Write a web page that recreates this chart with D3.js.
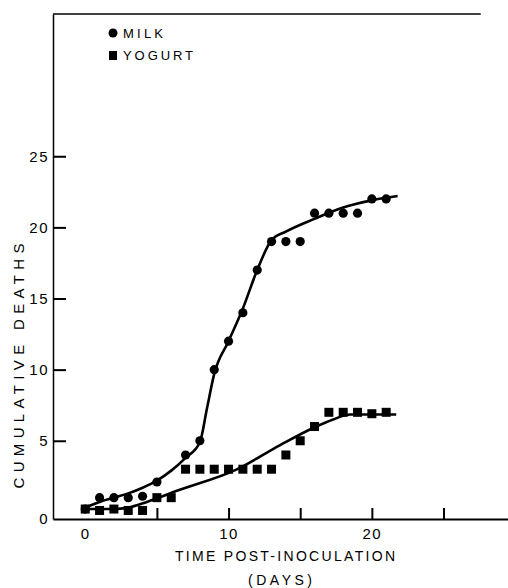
<!DOCTYPE html>
<html>
<head>
<meta charset="utf-8">
<script src="https://cdn.jsdelivr.net/npm/d3@7"></script>
<style>
body { margin: 0; background: #fff; }
text { font-family: "Liberation Sans", Arial, sans-serif; fill: #000; }
</style>
</head>
<body>
<script>
// observed points
var milkDays = [0, 1, 2, 3, 4, 5, 7, 8, 9, 10, 11, 12, 13, 14, 15, 16, 17, 18, 19, 20, 21]
var milkDeaths = [0.2, 1, 1, 1, 1.1, 2.1, 4, 5, 10, 12, 14, 17, 19, 19, 19, 21, 21, 21, 21, 22, 22]
var yogurtDays = [0, 1, 2, 3, 4, 5, 6, 7, 8, 9, 10, 11, 12, 13, 14, 15, 16, 17, 18, 19, 20, 21]
var yogurtDeaths = [0.2, 0.1, 0.2, 0.1, 0.1, 1, 1, 3, 3, 3, 3, 3, 3, 3, 4, 5, 6, 7, 7, 7, 6.9, 7]

// hand drawn fitted curves
var milkFitDays = [0, 1, 2, 3, 4, 5, 6, 7, 8, 8.5, 9, 10, 11, 12, 13, 14, 16, 18, 20, 21.8]
var milkFitDeaths = [0.3, 0.7, 1.0, 1.3, 1.7, 2.2, 2.9, 3.8, 4.9, 7.3, 9.7, 12, 14.3, 17, 19.1, 19.7, 20.6, 21.4, 21.9, 22.2]
var yogurtFitDays = [0, 2, 3, 4.3, 6.6, 10.5, 13.6, 15.9, 17.3, 18.5, 21.7]
var yogurtFitDeaths = [0.2, 0.2, 0.3, 0.7, 1.55, 2.95, 4.7, 5.9, 6.5, 6.85, 6.85]

var xTicks = [0, 5, 10, 15, 20, 25]
var yTicks = [-0.5, 5, 10, 15, 20, 25]

var svg = d3.select("body").append("svg")
	.attr("width", 508)
	.attr("height", 588)

var x = d3.scaleLinear().domain([-2.25, 29.5]).range([53, 508])
var y = d3.scaleLinear().domain([-0.5, 35]).range([519, 14])

// frame top line
svg.append("line")
	.attr("x1", x(-2.25)).attr("x2", x(27.6))
	.attr("y1", y(35)).attr("y2", y(35))
	.attr("stroke", "#000").attr("stroke-width", 1.5)

// x axis
var xAxis = svg.append("g")
	.attr("transform", "translate(0," + y(-0.5) + ")")
	.call(d3.axisBottom(x).tickValues(xTicks).tickSizeInner(-11).tickSizeOuter(0).tickPadding(9)
		.tickFormat(function(d) { return d % 10 === 0 ? d : "" }))
xAxis.select(".domain").attr("stroke-width", 2)
xAxis.selectAll(".tick line").attr("stroke-width", 2)
	.filter(function(d) { return d === 0 }).remove()
xAxis.selectAll(".tick text").style("font-size", "15px").style("letter-spacing", "1.5px")

// y axis
var yAxis = svg.append("g")
	.attr("transform", "translate(" + x(-2.25) + ",0)")
	.call(d3.axisLeft(y).tickValues(yTicks).tickSizeInner(-13).tickSizeOuter(0).tickPadding(4)
		.tickFormat(function(d) { return d < 0 ? "0" : d }))
yAxis.select(".domain").attr("stroke-width", 1.5)
yAxis.selectAll(".tick line").attr("stroke-width", 2)
	.filter(function(d) { return d < 0 }).remove()
yAxis.selectAll(".tick text").style("font-size", "15px").style("letter-spacing", "1.5px")

// axis titles
svg.append("text")
	.attr("x", 285).attr("y", 561)
	.attr("text-anchor", "middle")
	.attr("textLength", 220).attr("lengthAdjust", "spacing")
	.style("font-size", "14px")
	.text("TIME POST-INOCULATION")
svg.append("text")
	.attr("x", 280).attr("y", 585)
	.attr("text-anchor", "middle")
	.attr("textLength", 64).attr("lengthAdjust", "spacing")
	.style("font-size", "14px")
	.text("(DAYS)")
svg.append("text")
	.attr("transform", "translate(24,366) rotate(-90)")
	.attr("text-anchor", "middle")
	.attr("textLength", 245).attr("lengthAdjust", "spacing")
	.style("font-size", "15px")
	.text("CUMULATIVE DEATHS")

// fitted curves
var line = d3.line()
	.x(function(d) { return x(d[0]) })
	.y(function(d) { return y(d[1]) })
	.curve(d3.curveMonotoneX)

svg.append("path")
	.datum(d3.zip(milkFitDays, milkFitDeaths))
	.attr("d", line)
	.attr("fill", "none").attr("stroke", "#000").attr("stroke-width", 2.6)
svg.append("path")
	.datum(d3.zip(yogurtFitDays, yogurtFitDeaths))
	.attr("d", line)
	.attr("fill", "none").attr("stroke", "#000").attr("stroke-width", 2.6)

// markers
svg.append("g").selectAll("rect")
	.data(d3.zip(yogurtDays, yogurtDeaths))
	.enter().append("rect")
	.attr("x", function(d) { return x(d[0]) - 4.5 })
	.attr("y", function(d) { return y(d[1]) - 4.5 })
	.attr("width", 9).attr("height", 9)
	.attr("fill", "#000")
svg.append("g").selectAll("circle")
	.data(d3.zip(milkDays, milkDeaths))
	.enter().append("circle")
	.attr("cx", function(d) { return x(d[0]) })
	.attr("cy", function(d) { return y(d[1]) })
	.attr("r", 4.6)
	.attr("fill", "#000")

// legend
var legend = svg.append("g")
legend.append("circle").attr("cx", 113).attr("cy", 33).attr("r", 4.5).attr("fill", "#000")
legend.append("text").attr("x", 123).attr("y", 38)
	.attr("textLength", 40).attr("lengthAdjust", "spacing")
	.style("font-size", "13px").text("MILK")
legend.append("rect").attr("x", 109).attr("y", 51).attr("width", 8).attr("height", 9).attr("fill", "#000")
legend.append("text").attr("x", 123).attr("y", 60)
	.attr("textLength", 70).attr("lengthAdjust", "spacing")
	.style("font-size", "13px").text("YOGURT")
</script>
</body>
</html>
